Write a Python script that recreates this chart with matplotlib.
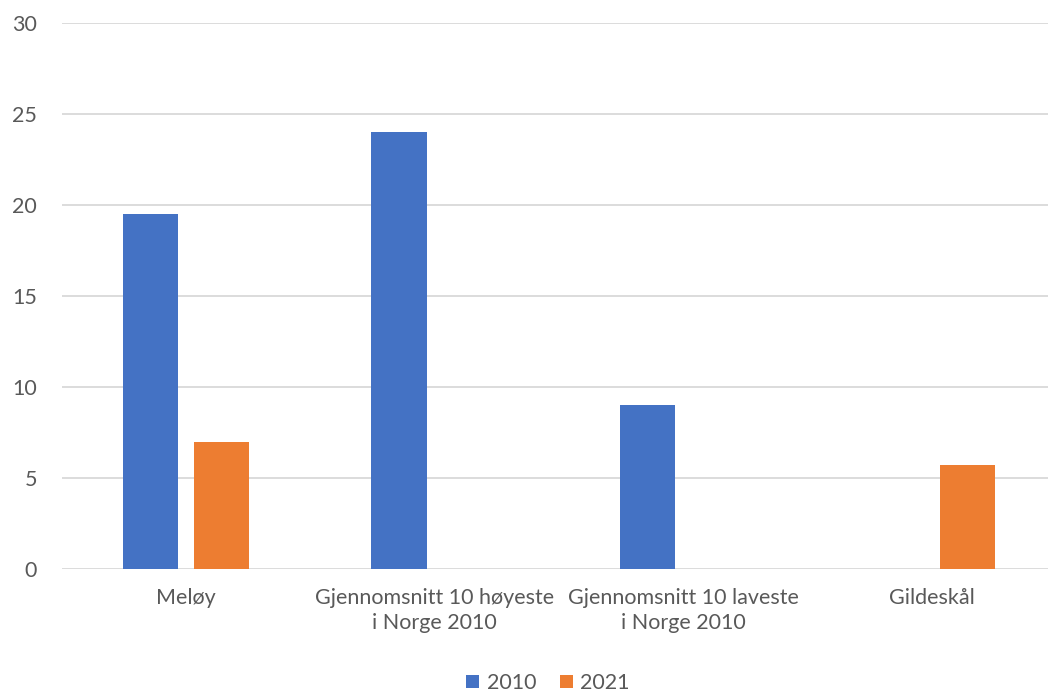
import matplotlib.pyplot as plt
import numpy as np

categories = ['Meløy', 'Gjennomsnitt 10 høyeste\ni Norge 2010',
              'Gjennomsnitt 10 laveste\ni Norge 2010', 'Gildeskål']
years = ['2010', '2021']
v2010 = [19.5, 24.0, 9.0, np.nan]
v2021 = [7.0, np.nan, np.nan, 5.7]
yticks = [0, 5, 10, 15, 20, 25, 30]

plt.rcParams['font.family'] = ['Lato', 'DejaVu Sans']
txtcol = '#595959'
gridcol = '#d9d9d9'
fs = 15.5

fig = plt.figure(figsize=(10.48, 6.93), dpi=100)
ax = fig.add_axes([62/1048, 124/693, 986/1048, 546/693])

x = np.arange(len(categories))
w = 0.223
off = 0.143
ax.bar(x - off, v2010, w, color='#4472c4', label=years[0], zorder=3)
ax.bar(x + off, v2021, w, color='#ed7d31', label=years[1], zorder=3)

ax.set_xlim(-0.5, 3.468)
ax.set_ylim(0, 30)
ax.set_yticks(yticks)
ax.yaxis.grid(True, color=gridcol, linewidth=1.3, zorder=0)
for s in ax.spines.values():
    s.set_visible(False)
ax.tick_params(axis='both', length=0, labelsize=fs, labelcolor=txtcol)
ax.tick_params(axis='y', pad=18)
ax.tick_params(axis='x', pad=14)
ax.set_xticks(x)
ax.set_xticklabels(categories, linespacing=1.3)

ax.legend(loc='center', bbox_to_anchor=(548/1048, 10/693),
          bbox_transform=fig.transFigure, ncol=2, frameon=False,
          fontsize=fs, labelcolor=txtcol, handlelength=0.6, handleheight=0.6,
          columnspacing=1.1, handletextpad=0.35)

fig.savefig('out.png', dpi=100)
